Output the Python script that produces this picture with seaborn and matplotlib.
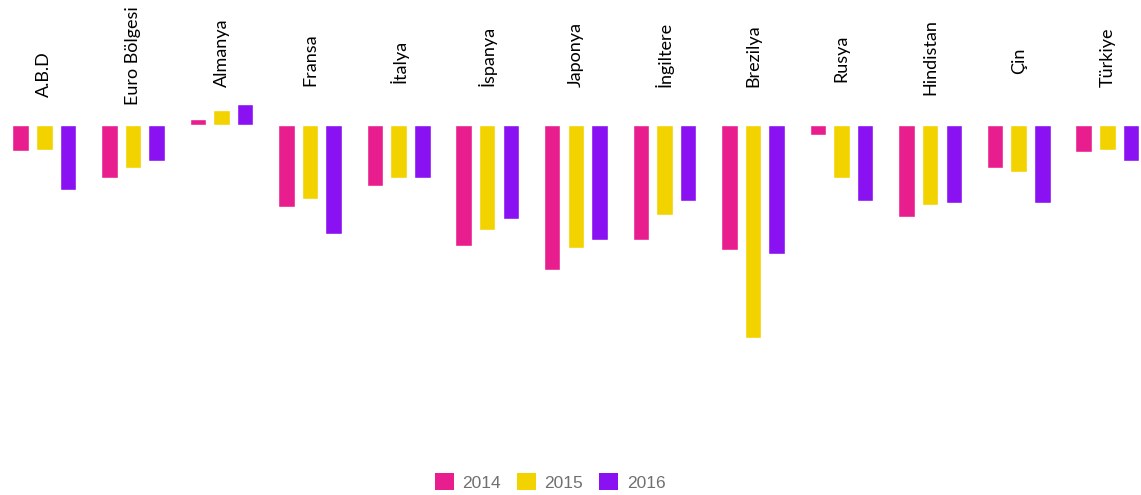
import matplotlib
matplotlib.use("Agg")
import matplotlib.pyplot as plt
import seaborn as sns
import pandas as pd
from matplotlib.patches import Patch

categories = ["A.B.D", "Euro Bölgesi", "Almanya", "Fransa", "İtalya", "İspanya",
              "Japonya", "İngiltere", "Brezilya", "Rusya", "Hindistan", "Çin", "Türkiye"]
years = ["2014", "2015", "2016"]
v2014 = [-4.1, -8.3, 0.9, -12.8, -9.5, -18.9, -22.7, -18.0, -19.5, -1.6, -14.4, -6.7, -4.2]
v2015 = [-3.9, -6.7, 2.3, -11.6, -8.3, -16.4, -19.2, -14.1, -33.3, -8.3, -12.5, -7.3, -3.9]
v2016 = [-10.2, -5.6, 3.3, -17.0, -8.3, -14.7, -18.0, -11.9, -20.2, -11.9, -12.2, -12.2, -5.6]
colors = ["#E91E8E", "#F2D300", "#8A12F2"]

# layout only: label baseline gap (pixels above the plot top) per category
label_gap_px = [3, -5, 13, 14, 17, 14, 13, 13, 13, 18, 5, 26, 13]

rows = []
for yr, vals in zip(years, [v2014, v2015, v2016]):
    for c, v in zip(categories, vals):
        rows.append({"Ülke": c, "Yıl": yr, "Değer": v})
df = pd.DataFrame(rows)

sns.set_theme(style="white")
plt.rcParams["font.family"] = ["Lato", "DejaVu Sans"]

fig = plt.figure(figsize=(11.41, 4.95), dpi=100)
fig.patch.set_facecolor("white")
H = 495.0
ax = fig.add_axes([0, (H - 440) / H, 1, (440 - 100) / H])
sns.barplot(data=df, x="Ülke", y="Değer", hue="Yıl", order=categories, hue_order=years,
            palette=colors, width=0.8, gap=0.3, legend=False, ax=ax, saturation=1)
ax.set_xlim(-0.5, 12.38)
ax.set_ylim(-49.2, 3.9)
for s in ax.spines.values():
    s.set_visible(False)
ax.set_xlabel("")
ax.set_ylabel("")
ax.set_yticks([])
ax.set_xticks([])

for i, (cat, gap) in enumerate(zip(categories, label_gap_px)):
    ax.annotate(cat, xy=(i, 1), xycoords=("data", "axes fraction"),
                xytext=(0, gap), textcoords="offset pixels",
                rotation=90, ha="center", va="bottom", fontsize=13, color="black",
                annotation_clip=False)

handles = [Patch(facecolor=c, edgecolor="none", label=y) for c, y in zip(colors, years)]
leg = fig.legend(handles=handles, loc="center", bbox_to_anchor=(0.482, 1 - 482 / H), ncol=3,
                 frameon=False, handlelength=1.1, handleheight=1.1, handletextpad=0.5,
                 columnspacing=0.9, prop={"family": "Liberation Sans", "size": 12.5})
for t in leg.get_texts():
    t.set_color("#707070")

fig.savefig("out.png", dpi=100, facecolor="white")
